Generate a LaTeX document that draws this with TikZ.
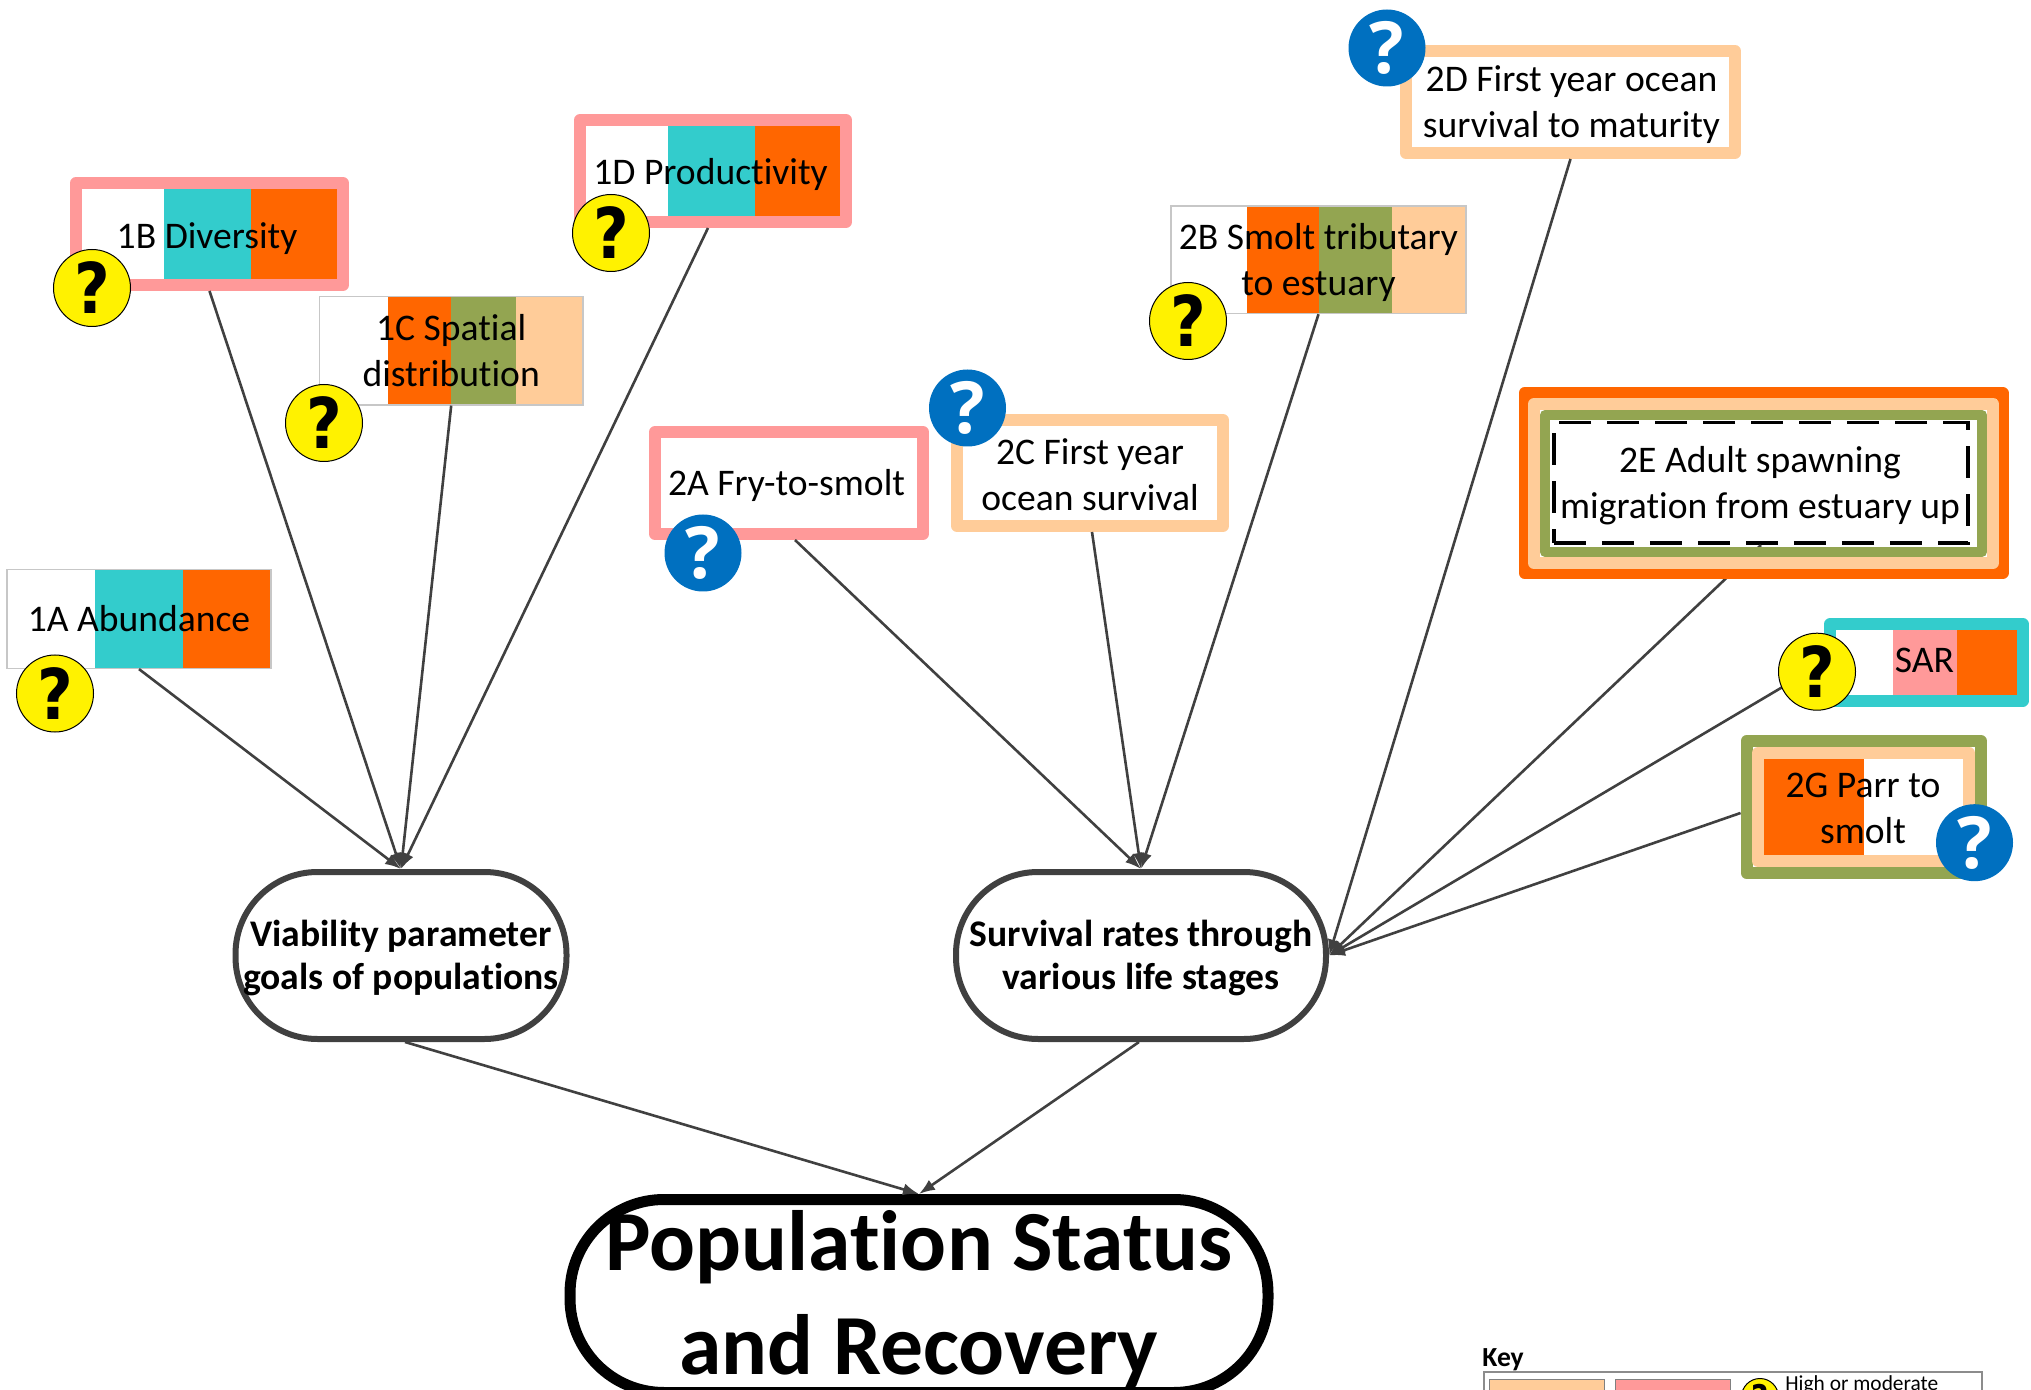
\documentclass[tikz,border=0pt]{standalone}
\usepackage{fontspec}
\setmainfont[Ligatures=NoCommon]{Carlito}
\newfontfamily\questfont{Open Sans}
\newfontfamily\heavyfont{DejaVu Sans}
\usetikzlibrary{arrows.meta}

\definecolor{orangefill}{HTML}{FF6600}
\definecolor{tealfill}{HTML}{33CCCC}
\definecolor{olivefill}{HTML}{93A551}
\definecolor{peachfill}{HTML}{FFCC99}
\definecolor{pinkfill}{HTML}{FF9999}
\definecolor{bluefill}{HTML}{0070C0}
\definecolor{linkgray}{HTML}{404040}

\newcommand{\yellowmark}{\scalebox{.88}[1]{?}}

\tikzset{
  cell/.style={align=center,inner sep=0pt,font=\fontsize{18.8}{23}\selectfont},
  thinbox/.style={cell,draw=black!22,line width=.6pt},
  frame/.style={inner sep=0pt,line width=6pt,line join=round},
  goal/.style={inner sep=0pt,fill=white,draw=linkgray,line width=3pt},
  goaltext/.style={align=center,inner sep=0pt,font=\bfseries\fontsize{18.8}{21.5}\selectfont},
  link/.style={draw=linkgray,line width=1.3pt,-{Latex[length=8pt,width=6pt]}},
  questyellow/.style={circle,draw=black,line width=.5pt,fill=yellow,text=black,inner sep=0pt,
    minimum size=38.5pt,font=\heavyfont\bfseries\fontsize{35}{35}\selectfont},
  questblue/.style={circle,fill=bluefill,text=white,inner sep=0pt,
    minimum size=38.5pt,font=\questfont\bfseries\fontsize{36}{36}\selectfont},
}

\begin{document}
\begin{tikzpicture}[x=0.5pt,y=-0.5pt]
\useasboundingbox (0,0) rectangle (2031,1390);

% colour bands behind the objectives
\foreach \xa/\xb/\col in {95/183/tealfill,183/271/orangefill}
  \fill[\col] (\xa,569.5) rectangle (\xb,668.6);
\foreach \xa/\xb/\col in {164/251/tealfill,251/337/orangefill}
  \fill[\col] (\xa,188.7) rectangle (\xb,279.8);
\foreach \xa/\xb/\col in {387.5/451/orangefill,451/516/olivefill,516/583/peachfill}
  \fill[\col] (\xa,296.6) rectangle (\xb,405);
\foreach \xa/\xb/\col in {668/755/tealfill,755/842/orangefill}
  \fill[\col] (\xa,126) rectangle (\xb,216);
\foreach \xa/\xb/\col in {1247/1319/orangefill,1319/1392/olivefill,1392/1466/peachfill}
  \fill[\col] (\xa,206) rectangle (\xb,313.5);
\foreach \xa/\xb/\col in {1893/1957/pinkfill,1957/2017/orangefill}
  \fill[\col] (\xa,630) rectangle (\xb,694.7);
\fill[orangefill] (1764,759) rectangle (1863.5,855);

% objectives, first group
\node[thinbox,minimum width=132pt,minimum height=49.5pt] (abundance) at (139,619) {1A Abundance};
\node[frame,draw=pinkfill,minimum width=133.5pt,minimum height=51pt] (diversity) at (209.5,234) {};
\node[cell] (diversitytext) at (207,239) {1B Diversity};
\node[thinbox,minimum width=131.8pt,minimum height=54.2pt] (spatial) at (451.2,350.8) {1C Spatial\\distribution};
\node[frame,draw=pinkfill,minimum width=133pt,minimum height=51pt] (productivity) at (713,171) {};
\node[cell] (productivitytext) at (710.5,174.2) {1D Productivity};

% objectives, second group
\node[frame,draw=pinkfill,minimum width=134pt,minimum height=51pt] (fry) at (789,483) {};
\node[cell] (frytext) at (786.5,485) {2A Fry-to-smolt};
\node[thinbox,minimum width=147.5pt,minimum height=53.8pt] (smolt) at (1318.5,259.8) {};
\node[cell] (smolttext) at (1318.5,262.8) {2B Smolt tributary\\to estuary};
\node[frame,draw=peachfill,minimum width=133pt,minimum height=53pt] (oceanyear) at (1090,473) {};
\node[cell] (oceanyeartext) at (1090,475) {2C First year\\ocean survival};
\node[frame,draw=peachfill,minimum width=164.5pt,minimum height=51pt] (maturity) at (1570.5,102) {};
\node[cell] (maturitytext) at (1571.5,104.6) {2D First year ocean\\survival to maturity};

% summary nodes
\node[goal,minimum width=165.5pt,minimum height=83.5pt,rounded corners=41pt] (viability) at (401,955.5) {};
\node[goaltext] (viabilitytext) at (401,958) {Viability parameter\\goals of populations};
\node[goal,minimum width=185pt,minimum height=83.5pt,rounded corners=41pt] (survival) at (1141,955.5) {};
\node[goaltext] (survivaltext) at (1141,958) {Survival rates through\\various life stages};
\node[goal,draw=black,line width=5.5pt,minimum width=349pt,minimum height=96.5pt,rounded corners=47pt] (status) at (919,1296) {};
\node[goaltext,font=\bfseries\fontsize{42.8}{52}\selectfont] (statustext) at (919,1299) {Population Status\\and Recovery};

% the 2E link starts inside its frames, so they come after it
\node[cell,draw=black,line width=1.8pt,dash pattern=on 16pt off 8pt,minimum width=207.2pt,minimum height=60.3pt] (adult) at (1761,483) {};
\draw[link] (adult.south) -- (survival.east);
\node[frame,draw=orangefill,minimum width=239pt,minimum height=90pt] (adultouter) at (1763.5,483) {};
\node[frame,draw=peachfill,minimum width=229.5pt,minimum height=79.5pt] (adultmid) at (1763.5,483.5) {};
\node[frame,draw=olivefill,line width=5pt,minimum width=218.5pt,minimum height=68.5pt] (adultinner) at (1763.5,483.5) {};
\node[cell] (adulttext) at (1760,486) {2E Adult spawning\\migration from estuary up};

\node[frame,draw=tealfill,minimum width=96.2pt,minimum height=38.3pt] (sar) at (1926.5,662.3) {};
\node[cell] (sartext) at (1924.5,660.7) {SAR};

\node[frame,draw=olivefill,minimum width=117.2pt,minimum height=66pt] (parrouter) at (1863.7,807) {};
\node[frame,draw=peachfill,minimum width=105.5pt,minimum height=54pt] (parr) at (1863.5,807) {};
\node[cell] (parrtext) at (1863,808.5) {2G Parr to\\smolt};

% connectors
\draw[link] (abundance.south) -- (viability.north);
\draw[link] (diversity.south) -- (viability.north);
\draw[link] (spatial.south) -- (viability.north);
\draw[link] ([xshift=-2.5pt]productivity.south) -- (viability.north);
\draw[link] ([xshift=3pt]fry.south) -- (survival.north);
\draw[link] ([xshift=1pt]oceanyear.south) -- (survival.north);
\draw[link] (smolt.south) -- (survival.north);
\draw[link] (maturity.south) -- (survival.east);
\draw[link] (sar.west) -- (survival.east);
\draw[link] ([yshift=-3pt]parrouter.west) -- (survival.east);
\draw[link] ([xshift=2pt]viability.south) -- (status.north);
\draw[link] ([xshift=-1pt]survival.south) -- (status.north);

% question marks
\node[questyellow] (qabundance) at (55,693.5) {\yellowmark};
\node[questyellow] (qdiversity) at (92,288) {\yellowmark};
\node[questyellow] (qspatial) at (324,423) {\yellowmark};
\node[questyellow] (qproductivity) at (611,233) {\yellowmark};
\node[questyellow] (qsmolt) at (1188,321) {\yellowmark};
\node[questyellow] (qsar) at (1817,671.7) {\yellowmark};
\node[questblue] (qfry) at (703,553) {?};
\node[questblue] (qoceanyear) at (967.5,408) {?};
\node[questblue] (qmaturity) at (1387,48) {?};
\node[questblue] (qparr) at (1974.5,842.7) {?};

% key, cut off by the page edge
\node[font=\bfseries\fontsize{13.8}{16}\selectfont,anchor=south west,inner sep=0pt] (keytitle) at (1482,1371) {Key};
\node[draw=black!45,line width=1pt,minimum width=249pt,minimum height=40pt,anchor=north west,inner sep=0pt] (keybox) at (1483,1371) {};
\node[draw=black!50,fill=peachfill,line width=.6pt,minimum width=57.5pt,minimum height=30pt,anchor=north west,inner sep=0pt] (keypeach) at (1489,1379) {};
\node[draw=black!50,fill=pinkfill,line width=.6pt,minimum width=57.5pt,minimum height=30pt,anchor=north west,inner sep=0pt] (keypink) at (1615,1379) {};
\node[questyellow,minimum size=18.5pt,font=\heavyfont\bfseries\fontsize{17}{17}\selectfont] (keyquest) at (1760,1397) {\yellowmark};
\node[font=\fontsize{10.7}{12}\selectfont,anchor=west,inner sep=0pt] (keyhigh) at (1785,1385) {High or moderate};
\end{tikzpicture}
\end{document}
